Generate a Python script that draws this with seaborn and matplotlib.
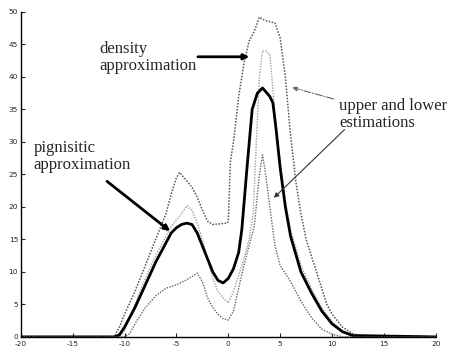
import pandas as pd
import matplotlib.pyplot as plt
import seaborn as sns

# upper estimation
upper_x = [-20, -11, -10.5, -10, -9, -8, -7, -6, -5.5, -5, -4.7, -4, -3.5, -3, -2.5, -2, -1.5, -0.1,
           0, 0.2, 0.5, 1, 1.5, 2, 2.5, 3, 3.5, 4.5, 5, 5.5, 6, 6.5, 7, 7.5, 8, 8.5, 9, 9.5,
           10, 10.5, 11, 12, 13, 20]
upper_y = [0, 0, 1.5, 3.5, 7, 11, 15, 19, 22, 24.5, 25.3, 24, 23, 21.5, 19.5, 17.8, 17.3, 17.5,
           17.8, 27, 30, 37, 42, 45.5, 47, 49.2, 48.7, 48.3, 46, 40, 31, 24, 19, 15, 12.5, 10, 7.5, 5,
           3.5, 2.5, 1.5, 0.5, 0.1, 0]

# density approximation
dens_x = [-20, -10.5, -10, -9, -8, -7, -6, -5.5, -5, -4.5, -4, -3.5, -3, -2.5, -2, -1.5, -1, -0.5,
          0, 0.5, 1, 1.5, 2, 2.4, 2.7, 3, 3.3, 3.6, 4, 4.3, 4.5, 5, 5.5, 6, 7, 8, 9, 10, 11, 12, 20]
dens_y = [0, 0, 1, 5, 9, 12.5, 15.5, 17, 18, 19, 20.2, 19.5, 17.5, 15, 12, 9, 7, 6,
          5.2, 7, 9.5, 12, 15, 19, 30, 40, 44, 44, 43.5, 38, 34, 27, 21, 16.5, 11, 7.5, 4.5, 2.3, 0.9, 0.3, 0]

# pignistic approximation
pign_x = [-20, -11, -10.5, -10, -9, -8, -7, -6, -5.5, -5, -4.5, -4, -3.5, -3, -2.5, -2, -1.5, -1, -0.5,
          0, 0.5, 1, 1.3, 1.8, 2.3, 2.8, 3.3, 4, 4.3, 4.6, 5, 5.5, 6, 7, 8, 9, 10, 11, 12, 20]
pign_y = [0, 0, 0.3, 1.5, 4.5, 8, 11.5, 14.5, 16, 16.8, 17.3, 17.5, 17.3, 16, 14, 12, 10, 8.7, 8.3,
          9, 10.5, 13, 16.5, 26, 35, 37.5, 38.3, 37, 36, 32, 26, 20, 15.5, 10, 6.8, 4, 2, 0.8, 0.2, 0]

# lower estimation
lower_x = [-20, -10, -9.5, -9, -8, -7, -6, -5, -4, -3, -2.5, -2, -1.5, -1, -0.5, 0, 0.5, 1, 1.5, 2,
           2.5, 3, 3.3, 3.6, 4, 4.5, 5, 6, 7, 8, 9, 10, 11, 20]
lower_y = [0, 0, 0.5, 2, 4.5, 6.3, 7.5, 8, 8.8, 9.8, 8.5, 6, 4.5, 3.5, 2.8, 2.6, 4, 7.5, 11, 14,
           17, 25, 28, 25, 20, 14, 11, 8.5, 5.5, 3, 1.2, 0.4, 0, 0]

x_ticks = [-20, -15, -10, -5, 0, 5, 10, 15, 20]
y_ticks = [0, 5, 10, 15, 20, 25, 30, 35, 40, 45, 50]

sns.set_style('ticks')
plt.rcParams['axes.unicode_minus'] = False
fig = plt.figure(figsize=(4.53, 3.52), dpi=100)
ax = fig.add_axes([0.046, 0.043, 0.916, 0.923])

sns.lineplot(x=upper_x, y=upper_y, ax=ax, color='#555555', lw=1.1, ls=(0, (1, 1)), sort=False, estimator=None)
sns.lineplot(x=dens_x, y=dens_y, ax=ax, color='#a0a0a0', lw=1.0, ls=(0, (1, 1)), sort=False, estimator=None)
sns.lineplot(x=pign_x, y=pign_y, ax=ax, color='black', lw=2.0, sort=False, estimator=None)
sns.lineplot(x=lower_x, y=lower_y, ax=ax, color='#666666', lw=1.0, ls=(0, (1, 1)), sort=False, estimator=None)

ax.set_xlim(-20, 20)
ax.set_ylim(0, 50)
ax.set_xticks(x_ticks)
ax.set_yticks(y_ticks)
ax.tick_params(direction='in', length=3, width=0.8, labelsize=5.3)
ax.tick_params(axis='x', pad=3)
ax.tick_params(axis='y', pad=2)
sns.despine(ax=ax)
for s in ['left', 'bottom']:
    ax.spines[s].set_linewidth(1.0)
    ax.spines[s].set_color('black')

txt = dict(family='Liberation Serif', fontsize=12, va='top', ha='left', linespacing=1.12)
ax.text(-12.4, 45.6, 'density\napproximation', **txt)
ax.text(-18.8, 30.3, 'pignisitic\napproximation', **txt)
ax.text(10.7, 36.8, 'upper and lower\nestimations', **txt)

ax.annotate('', xy=(2.3, 43.1), xytext=(-3.2, 43.1),
            arrowprops=dict(arrowstyle='-|>', color='black', lw=2, mutation_scale=8))
ax.annotate('', xy=(-5.4, 16.0), xytext=(-11.9, 24.2),
            arrowprops=dict(arrowstyle='-|>', color='black', lw=2, mutation_scale=8))
ax.annotate('', xy=(5.9, 38.5), xytext=(10.4, 36.5),
            arrowprops=dict(arrowstyle='-|>', color='#666666', lw=0.8, ls='-.', mutation_scale=7))
ax.annotate('', xy=(4.2, 21.1), xytext=(11.4, 32.2),
            arrowprops=dict(arrowstyle='-|>', color='#333333', lw=0.8, mutation_scale=7))

fig.savefig('out.png', dpi=100)
